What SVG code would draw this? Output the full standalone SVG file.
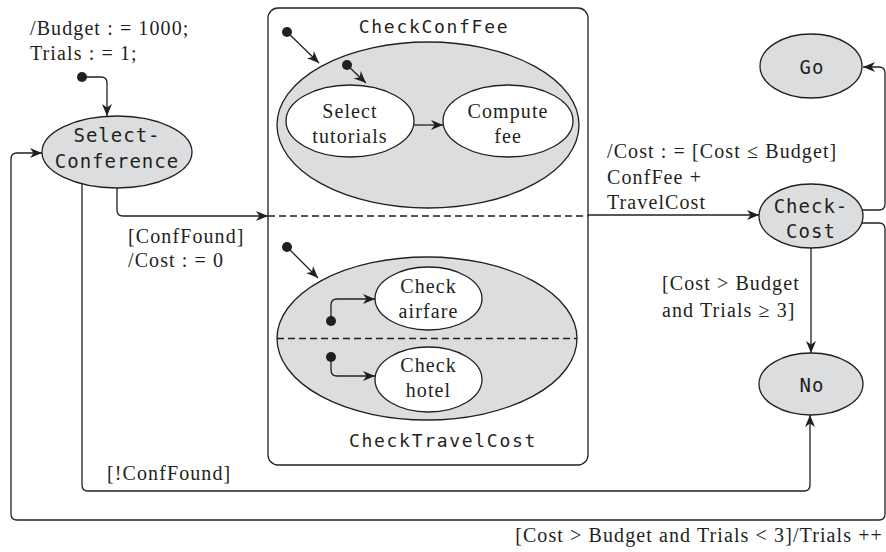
<svg xmlns="http://www.w3.org/2000/svg" width="886" height="552" viewBox="0 0 886 552">
  <defs>
    <style>
      .state { fill: #dcdddf; stroke: #231f20; stroke-width: 1.3; }
      .sub { fill: #ffffff; stroke: #231f20; stroke-width: 1.3; }
      .frame { fill: #ffffff; stroke: #231f20; stroke-width: 1.3; }
      .line { fill: none; stroke: #231f20; stroke-width: 1.3; }
      .dash { fill: none; stroke: #231f20; stroke-width: 1.3; stroke-dasharray: 7 4; }
      .dot { fill: #231f20; }
      .mono { font-family: "DejaVu Sans Mono", "Liberation Mono", monospace; font-size: 19px; letter-spacing: 1px; fill: #231f20; text-anchor: middle; }
      .title { font-family: "DejaVu Sans Mono", "Liberation Mono", monospace; font-size: 18px; letter-spacing: 1.7px; fill: #231f20; text-anchor: middle; }
      .serif { font-family: "Liberation Serif", "Times New Roman", serif; font-size: 20px; letter-spacing: 1.1px; fill: #231f20; }
      .mid { text-anchor: middle; }
    </style>
    <marker id="arrow" viewBox="0 0 12 10" refX="12" refY="5" markerWidth="12" markerHeight="10" markerUnits="userSpaceOnUse" orient="auto">
      <path d="M0,0 L12,5 L0,10 L3.5,5 Z" fill="#231f20"/>
    </marker>
  </defs>

  <!-- composite state frame holding the two concurrent regions -->
  <g id="parallel-frame">
    <rect class="frame" x="268" y="8" width="320" height="457" rx="10" ry="10"/>
  </g>

  <g id="SelectConference">
    <ellipse class="state" cx="117" cy="152" rx="75" ry="36"/>
    <text class="mono" x="117" y="142">Select-</text>
    <text class="mono" x="117" y="168">Conference</text>
  </g>

  <g id="CheckConfFee">
    <text class="title" x="434" y="33">CheckConfFee</text>
    <ellipse class="state" cx="428" cy="125" rx="151" ry="83"/>
    <g id="SelectTutorials">
      <ellipse class="sub" cx="350" cy="121" rx="64" ry="36"/>
      <text class="serif mid" x="350" y="118">Select</text>
      <text class="serif mid" x="350" y="143">tutorials</text>
    </g>
    <g id="ComputeFee">
      <ellipse class="sub" cx="508" cy="121" rx="65" ry="36"/>
      <text class="serif mid" x="508" y="118">Compute</text>
      <text class="serif mid" x="508" y="143">fee</text>
    </g>
  </g>

  <g id="CheckTravelCost">
    <ellipse class="state" cx="427" cy="338.5" rx="150" ry="81.5"/>
    <line class="dash" x1="277" y1="338.5" x2="577" y2="338.5"/>
    <g id="CheckAirfare">
      <ellipse class="sub" cx="428.5" cy="298.5" rx="53.5" ry="31.5"/>
      <text class="serif mid" x="428.5" y="293">Check</text>
      <text class="serif mid" x="428.5" y="318">airfare</text>
    </g>
    <g id="CheckHotel">
      <ellipse class="sub" cx="428.5" cy="379.5" rx="53.5" ry="32.5"/>
      <text class="serif mid" x="428.5" y="372">Check</text>
      <text class="serif mid" x="428.5" y="397">hotel</text>
    </g>
    <text class="title" x="443" y="447">CheckTravelCost</text>
  </g>

  <g id="Go">
    <ellipse class="state" cx="811" cy="66" rx="51" ry="32"/>
    <text class="mono" x="812" y="74">Go</text>
  </g>

  <g id="CheckCost">
    <ellipse class="state" cx="811" cy="216" rx="52" ry="32"/>
    <text class="mono" x="811" y="213">Check-</text>
    <text class="mono" x="811" y="238">Cost</text>
  </g>

  <g id="No">
    <ellipse class="state" cx="811" cy="384" rx="52" ry="31"/>
    <text class="mono" x="812" y="392">No</text>
  </g>

  <g id="connectors">
    <!-- initial pseudo-states -->
    <circle class="dot" cx="82" cy="77" r="5"/>
    <circle class="dot" cx="287" cy="32" r="5"/>
    <circle class="dot" cx="347" cy="65" r="5"/>
    <circle class="dot" cx="287" cy="247" r="5"/>
    <circle class="dot" cx="331" cy="321" r="5"/>
    <circle class="dot" cx="331" cy="357" r="5"/>

    <path class="line" d="M82,77 H101 Q107,77 107,83 V116" marker-end="url(#arrow)"/>
    <path class="line" d="M287,32 L319,63" marker-end="url(#arrow)"/>
    <path class="line" d="M347,65 L366,83" marker-end="url(#arrow)"/>
    <path class="line" d="M414,125 H443" marker-end="url(#arrow)"/>
    <path class="line" d="M287,247 L318,278" marker-end="url(#arrow)"/>
    <path class="line" d="M331,321 V305 Q331,299 337,299 H375" marker-end="url(#arrow)"/>
    <path class="line" d="M331,357 V370 Q331,376 337,376 H375" marker-end="url(#arrow)"/>

    <!-- fork into the concurrent regions, join out to CheckCost -->
    <path class="line" d="M117,188 V210 Q117,216 123,216 H268" marker-end="url(#arrow)"/>
    <line class="dash" x1="268" y1="216" x2="588" y2="216"/>
    <path class="line" d="M588,215 H759" marker-end="url(#arrow)"/>

    <!-- CheckCost outcomes -->
    <path class="line" d="M811,248 V353" marker-end="url(#arrow)"/>
    <path class="line" d="M862,210 H879 Q885,210 885,204 V73 Q885,67 879,67 H863" marker-end="url(#arrow)"/>
    <path class="line" d="M862,223 H879 Q885,223 885,229 V514 Q885,520 879,520 H17 Q11,520 11,514 V159 Q11,153 17,153 H42" marker-end="url(#arrow)"/>

    <!-- no conference found -->
    <path class="line" d="M82,183 V485 Q82,491 88,491 H804 Q810,491 810,485 V415" marker-end="url(#arrow)"/>
  </g>

  <g id="labels">
    <text class="serif" x="30" y="35">/Budget : = 1000;</text>
    <text class="serif" x="30" y="60">Trials : = 1;</text>
    <text class="serif" x="128" y="243">[ConfFound]</text>
    <text class="serif" x="128" y="267">/Cost : = 0</text>
    <text class="serif" x="607" y="158">/Cost : = [Cost ≤ Budget]</text>
    <text class="serif" x="607" y="184">ConfFee +</text>
    <text class="serif" x="607" y="209">TravelCost</text>
    <text class="serif" x="662" y="290">[Cost &gt; Budget</text>
    <text class="serif" x="662" y="317">and Trials ≥ 3]</text>
    <text class="serif" x="107" y="480">[!ConfFound]</text>
    <text class="serif" x="883" y="542" text-anchor="end">[Cost &gt; Budget and Trials &lt; 3]/Trials ++</text>
  </g>
</svg>
